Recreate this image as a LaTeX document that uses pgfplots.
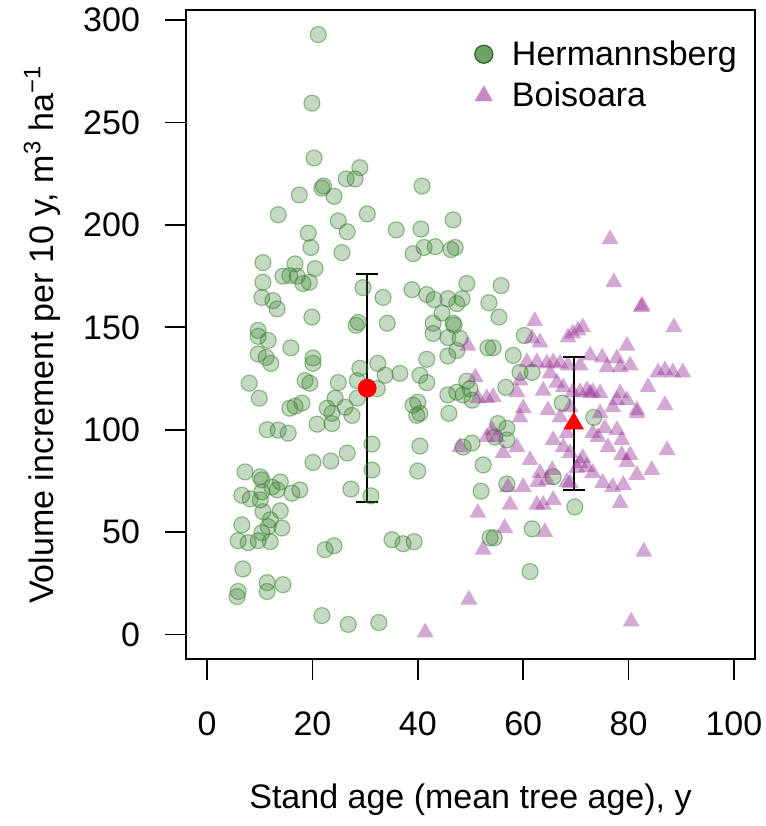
\documentclass[border=0pt]{standalone}
\usepackage{pgfplots}
\pgfplotsset{compat=1.18}
\usepackage{pgfplotstable}
\usepackage{fontspec}
\setmainfont{Liberation Sans}

\definecolor{hgreen}{RGB}{60,130,50}
\definecolor{hgreenleg}{RGB}{110,163,104}
\definecolor{bpurple}{RGB}{150,50,150}
\definecolor{bpurpleleg}{RGB}{197,138,197}

% Hermannsberg: stand age, volume increment
\pgfplotstableread{
x y
21.1 293
19.9 259.5
20.3 232.7
29.0 228
26.4 222.5
28.1 222.5
21.8 218
22.1 219
24.1 214
17.5 214.7
40.8 219
13.5 205
30.4 205.4
24.9 202
26.6 196.7
35.9 197.6
40.6 198
46.7 202.5
19.2 196
19.7 189
25.6 186.5
39.1 186
41.2 189
43.3 189.4
46.3 188
47.1 189
10.6 181.6
10.6 172
10.4 164.6
12.5 163
13.3 159
16.7 181
14.4 175
15.7 175.3
17.1 175
18.2 171.4
19.4 172
20.5 178.7
19.9 155
29.6 169.4
33.4 164.6
34.2 152
28.7 152.4
28.3 151
38.9 168.4
41.7 166
43.1 163.6
44.6 157
45.7 164
47.4 161.6
48.4 164
49.3 171.4
42.9 152
46.7 152
53.5 162
9.7 148.5
42.9 147
45.7 145
48.0 144.6
46.9 151
45.7 136
47.4 138.7
53.3 140
9.7 145.6
11.6 143.6
15.9 140
9.7 137
11.2 135.3
12.1 132.4
20.1 135
20.1 132.4
8.0 122.7
9.9 115.4
18.6 124
19.5 122.7
24.9 123
15.7 110.5
16.7 111.5
18.0 113
22.8 110.5
24.3 115.4
23.7 108
26.2 111
27.5 107
23.7 103
29.0 130
28.5 124
28.5 115.4
32.4 132.4
33.8 126.6
36.6 127.5
32.3 120
20.9 102.7
11.4 100
13.5 99.8
15.4 98.3
31.3 93
31.3 80.3
31.1 67.7
27.3 71
20.1 84
23.5 84.7
26.6 88.6
7.2 79.4
10.1 77
10.4 75.5
13.9 74.5
13.3 70.6
16.1 69
17.6 70.6
6.6 68
8.2 66.2
10.1 65.7
10.4 69.6
12.3 72
10.6 60
13.9 60.4
6.6 53.5
12.0 56
11.6 52.6
14.2 52
10.4 49.7
5.9 45.8
7.8 44.8
9.7 45.8
12.0 45.3
6.8 32
5.9 21
5.7 18.5
11.4 25.3
11.4 21
14.4 24.3
22.4 41.4
24.1 43.3
35.1 46.3
37.2 44.3
39.3 45.3
21.8 9.2
26.8 4.9
32.6 5.8
40.4 92
40.0 79.8
39.1 112
40.0 113.4
39.8 107
40.4 108
41.7 134.4
40.4 126.6
41.7 123
45.7 117
47.4 118.3
48.6 117
49.9 120
50.3 114.4
45.9 108
49.3 123.7
48.6 91.5
50.3 93.5
52.4 82.8
52.0 70
53.7 47.2
55.8 170.4
55.4 155
60.2 146
54.3 140
58.1 136.3
59.4 128
61.7 128
56.7 120.7
67.4 113
73.4 106
55.2 103
56.9 100.7
54.6 96.4
56.9 95
56.9 73.5
65.7 77
69.8 62.3
61.7 51.6
54.5 47.2
61.3 30.7
}\hdata

% Boisoara: stand age, volume increment
\pgfplotstableread{
x y
76.5 193
77.2 172
82.4 160
82.6 160.5
88.6 150
62.2 153
71.3 150
70.4 148.5
69.4 147
68.5 145
79.7 141
49.5 141
61.7 144.6
63.2 142.6
60.7 133
62.6 133
64.5 132.4
65.7 133
67.0 132.4
68.5 131.4
70.8 131.4
72.7 136.3
75.0 135.3
77.8 134.8
75.9 130.5
78.4 130.5
80.3 131.4
85.6 128
86.9 129
88.4 128
90.3 128
83.7 120.7
86.9 112
58.8 118.3
54.3 116
50.9 125.6
59.4 124
63.8 119
66.4 123
65.1 127.5
70.8 118.3
72.7 117.8
74.6 117.8
78.4 117.8
79.7 114.4
77.0 111
81.6 109.5
60.0 110.5
59.4 106
64.7 109.5
75.5 100.7
77.8 99.8
74.2 96.4
78.7 95
76.1 91.5
73.2 98.3
65.7 95
68.3 98.3
67.6 91.5
68.9 88.6
54.1 99.8
53.1 96.4
55.0 96.4
48.0 91.5
58.8 91.5
56.2 88.6
61.3 85.2
78.7 87.6
80.3 87.6
79.7 84.2
87.3 90
70.8 83.7
72.1 81.8
70.2 81.3
65.5 80.3
64.5 75.5
73.2 78.9
75.1 74
77.0 72
79.0 73
81.6 77.9
84.4 80.3
60.0 72
57.1 72
68.3 74.5
68.9 74
65.7 65.7
63.8 63.3
62.6 63.3
57.5 63.3
78.4 64.2
51.4 59.4
56.5 52
64.1 50
52.4 41.4
82.9 40.4
49.7 17
80.5 6.3
41.4 1
51.4 115.4
53.1 115.4
74.6 108
81.6 108
77.8 114.4
67.6 120.7
69.4 118.3
72.1 119.3
73.2 118.3
68.9 111
67.0 106
71.3 86.2
63.2 78.9
62.8 74.5
}\bdata

\begin{document}
\begin{tikzpicture}[font=\fontsize{17}{20.4}\selectfont]
\begin{axis}[
  scale only axis,
  width=284.5pt, height=324.5pt,
  xmin=-4, xmax=104, ymin=-12, ymax=305,
  axis line style={line width=0.9pt},
  xtick={0,20,...,100}, ytick={0,50,...,300},
  xtick pos=bottom, ytick pos=left,
  tick align=outside, major tick length=10.5pt,
  tick style={line width=0.9pt, black},
  /pgf/number format/assume math mode=true,
  ticklabel style={font=\fontsize{17}{20.4}\selectfont},
  xticklabel style={yshift=-12.5pt},
  yticklabel style={xshift=-9pt},
  xlabel={Stand age (mean tree age), y},
  ylabel={Volume increment per 10 y, m\textsuperscript{3} ha\textsuperscript{−1}},
  xlabel style={at={(axis description cs:0.5,-0.2173)}, anchor=center},
  ylabel style={at={(axis description cs:-0.2531,0.5)}, anchor=center},
  legend style={draw=none, fill=none, at={(axis description cs:0.496,0.966)},
    anchor=north west, cells={anchor=west}, row sep=3pt, column sep=7.5pt,
    font=\fontsize{17}{20.4}\selectfont},
]
\addplot[only marks, mark=*, mark size=4pt,
  mark options={draw=hgreen, fill=hgreen, fill opacity=0.3, draw opacity=0.5, line width=0.6pt},
  forget plot] table {\hdata};
\addplot[only marks, mark=triangle*, mark size=4.9pt, color=bpurple,
  mark options={fill=bpurple, fill opacity=0.42, draw opacity=0},
  forget plot] table {\bdata};
% mean +- sd
\addplot[only marks, mark=none, forget plot,
  error bars/.cd, y dir=both, y explicit, error mark=-,
  error bar style={line width=1pt, black},
  error mark options={rotate=90, line width=1pt, black, mark size=5.5pt}]
  coordinates {(30.4,120.3) +- (0,55.7) (69.6,103.0) +- (0,32.4)};
\addplot[only marks, mark=*, mark size=4.5pt, color=red, forget plot]
  coordinates {(30.4,120.3)};
\addplot[only marks, mark=triangle*, mark size=5.5pt, color=red, forget plot]
  coordinates {(69.6,103.0)};
\addlegendimage{only marks, mark=*, mark size=4.5pt, mark options={draw=hgreen!75!black, fill=hgreenleg, line width=0.6pt}}
\addlegendentry{Hermannsberg}
\addlegendimage{only marks, mark=triangle*, mark size=5.3pt, color=bpurpleleg, mark options={fill=bpurpleleg, draw opacity=0}}
\addlegendentry{Boisoara}
\end{axis}
\draw[line width=0.9pt] (0,0) rectangle (284.5pt,324.5pt);
\pgfresetboundingbox
\path[use as bounding box] (-93pt,-83.5pt) rectangle (290pt,329.5pt);
\end{tikzpicture}
\end{document}
